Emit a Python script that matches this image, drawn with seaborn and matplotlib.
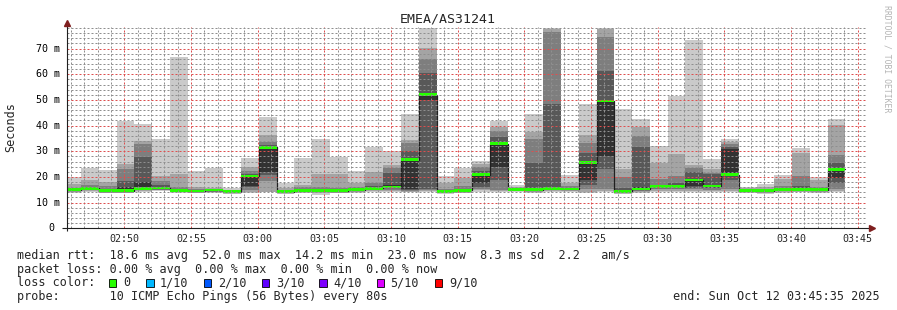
import matplotlib
matplotlib.use("Agg")
import numpy as np
import pandas as pd
import matplotlib.pyplot as plt
import matplotlib.dates as mdates
import matplotlib.transforms as mtrans
from matplotlib.ticker import MultipleLocator, NullFormatter
from matplotlib.patches import Rectangle
import seaborn as sns

# ---------------- data ----------------
title = "EMEA/AS31241"
sample_start = "2025-10-12 02:45:25"   # start of first 80 s probe round
step_seconds = 80
view_start = "2025-10-12 02:45:42"
view_end = "2025-10-12 03:45:42"

# sorted ping RTTs per round (ms): rtt1 = fastest ... rtt10 = slowest
rtt1 = [13.7, 14.3, 13.7, 13.6, 14.3, 14.6, 13.9, 13.7, 13.9, 13.5, 13.8, 14.0, 13.5, 13.8, 13.0,
        13.6, 13.9, 14.3, 14.3, 14.0, 14.2, 13.5, 13.6, 14.2, 14.2, 14.2, 13.9, 14.0, 14.2, 13.7,
        14.0, 13.4, 13.9, 14.2, 14.2, 14.2, 14.2, 14.0, 13.8, 13.5, 13.9, 14.0, 13.9, 14.0]
rtt2 = [14.1, 14.6, 13.9, 13.8, 14.6, 14.9, 14.1, 13.9, 14.1, 13.7, 14.3, 14.3, 13.7, 14.0, 13.6,
        13.9, 14.2, 14.6, 14.7, 14.3, 14.6, 13.8, 13.9, 14.8, 14.5, 14.4, 14.2, 14.4, 14.5, 14.3,
        14.6, 13.7, 14.3, 14.7, 14.7, 14.6, 14.6, 14.6, 14.0, 13.8, 14.3, 14.3, 14.2, 14.5]
rtt3 = [14.4, 14.9, 14.1, 14.0, 14.9, 15.1, 14.3, 14.1, 14.3, 13.9, 15.0, 18.4, 13.9, 14.3, 14.2,
        14.2, 14.5, 14.9, 15.1, 14.6, 15.0, 14.0, 14.2, 15.5, 15.0, 14.6, 14.5, 14.8, 14.8, 15.2,
        15.3, 14.0, 14.7, 15.2, 15.2, 15.2, 15.0, 15.5, 14.2, 14.1, 14.7, 14.6, 14.5, 15.5]
rtt4 = [14.6, 15.1, 14.3, 14.2, 15.2, 15.3, 14.5, 14.3, 14.5, 14.0, 16.0, 20.8, 14.1, 14.5, 14.5,
        14.5, 14.8, 15.2, 15.6, 14.9, 15.5, 14.2, 14.5, 16.2, 18.8, 14.8, 14.8, 15.2, 15.0, 16.9,
        23.1, 14.2, 15.0, 15.6, 15.6, 15.8, 15.6, 19.0, 14.4, 14.4, 15.0, 14.9, 14.8, 17.5]
rtt5 = [14.8, 15.4, 14.5, 14.7, 15.8, 15.6, 14.7, 14.5, 14.7, 14.2, 16.5, 22.0, 14.3, 14.7, 14.8,
        14.7, 15.0, 15.5, 16.1, 15.3, 50.0, 14.4, 14.8, 17.5, 24.0, 15.0, 15.0, 15.6, 15.3, 18.8,
        28.3, 14.4, 15.4, 16.0, 16.0, 16.6, 16.5, 21.0, 14.6, 14.6, 15.2, 15.2, 15.0, 19.6]
rtt6 = [15.0, 15.8, 14.8, 16.0, 18.0, 16.0, 15.0, 14.7, 14.9, 14.3, 20.8, 31.0, 14.5, 15.0, 15.0,
        15.0, 15.2, 15.8, 17.0, 27.0, 52.5, 14.7, 15.1, 21.0, 33.2, 15.2, 15.5, 16.0, 15.5, 25.8,
        49.6, 14.8, 16.0, 16.4, 16.6, 19.0, 17.0, 31.0, 14.8, 14.8, 15.4, 15.6, 15.2, 23.3]
rtt7 = [15.3, 16.2, 15.3, 18.3, 27.9, 16.8, 15.3, 15.0, 15.1, 14.4, 21.3, 32.3, 14.7, 15.3, 15.4,
        15.3, 15.5, 16.3, 21.5, 30.2, 60.5, 15.0, 15.5, 22.3, 35.5, 15.4, 25.3, 48.4, 15.8, 29.3,
        61.3, 15.8, 31.7, 17.0, 17.8, 22.1, 21.0, 31.8, 15.0, 15.0, 15.8, 16.5, 15.5, 25.3]
rtt8 = [15.8, 17.0, 16.4, 23.2, 32.8, 18.5, 16.0, 15.3, 15.3, 14.6, 22.5, 33.5, 15.0, 15.9, 16.0,
        15.8, 16.0, 17.6, 23.3, 33.3, 66.0, 15.5, 16.3, 23.8, 37.9, 15.7, 34.8, 76.6, 16.3, 33.2,
        74.6, 20.1, 36.0, 19.3, 20.4, 23.5, 21.4, 32.9, 15.2, 15.4, 16.5, 20.4, 16.0, 28.6]
rtt9 = [17.3, 19.0, 18.1, 25.1, 34.0, 20.4, 21.1, 15.9, 15.6, 15.0, 23.8, 36.4, 15.8, 16.9, 21.1,
        21.1, 17.8, 21.9, 24.7, 34.4, 70.1, 17.6, 19.7, 25.0, 39.6, 16.2, 37.4, 77.6, 17.5, 36.3,
        77.5, 23.1, 39.5, 25.3, 29.0, 24.5, 23.2, 33.8, 15.6, 16.0, 19.3, 29.2, 19.0, 40.3]
rtt10 = [19.8, 23.4, 22.6, 41.9, 40.6, 34.8, 66.7, 22.3, 23.4, 15.6, 27.4, 43.5, 17.6, 27.4, 34.8,
         27.8, 22.3, 31.6, 30.0, 44.4, 78.2, 20.4, 23.4, 26.3, 41.9, 16.9, 44.5, 78.2, 20.6, 48.4,
         78.1, 46.4, 42.6, 32.0, 51.6, 73.4, 27.0, 34.8, 16.0, 17.1, 20.8, 31.3, 19.8, 42.6]
median_rtt = [15.0, 15.6, 14.6, 14.6, 15.6, 15.7, 14.8, 14.5, 14.9, 14.2, 20.4, 31.6, 14.2, 14.6, 14.8,
              14.7, 15.1, 15.6, 16.1, 26.7, 52.1, 14.4, 14.8, 20.9, 32.9, 15.2, 15.0, 15.6, 15.3, 25.5,
              49.6, 14.3, 15.3, 16.2, 16.2, 18.8, 16.5, 20.8, 14.6, 14.6, 15.2, 15.2, 15.0, 23.0]

y_ticks = [0, 10, 20, 30, 40, 50, 60, 70]
y_tick_labels = ["0 ", "10 m", "20 m", "30 m", "40 m", "50 m", "60 m", "70 m"]

legend_line1 = "median rtt:  18.6 ms avg  52.0 ms max  14.2 ms min  23.0 ms now  8.3 ms sd  2.2   am/s"
legend_line2 = "packet loss: 0.00 % avg  0.00 % max  0.00 % min  0.00 % now"
loss_label = "loss color:"
loss_names = ["0", "1/10", "2/10", "3/10", "4/10", "5/10", "9/10"]
loss_colors = ["#26ff00", "#00b8ff", "#0059ff", "#5e00ff", "#7e00ff", "#dd00ff", "#ff0000"]
probe_line = "probe:       10 ICMP Echo Pings (56 Bytes) every 80s"
end_line = "end: Sun Oct 12 03:45:35 2025"
watermark = "RRDTOOL / TOBI OETIKER"

# ---------------- style ----------------
sns.set_style("white")
plt.rcParams['font.family'] = ['DejaVu Sans Mono', 'DejaVu Sans']

W, H = 897, 310
fig = plt.figure(figsize=(W / 100, H / 100), dpi=100)
fig.patch.set_facecolor("white")


def fx(px):
    return px / W


def fy(py):
    return 1 - py / H


AX_L, AX_R, AX_T, AX_B = 67, 867, 27.3, 228.3
ax = fig.add_axes([fx(AX_L), fy(AX_B), (AX_R - AX_L) / W, (AX_B - AX_T) / H])
ax.set_facecolor("white")

n = len(median_rtt)
times = pd.date_range(sample_start, periods=n, freq=f"{step_seconds}s")
x = mdates.date2num(times.to_pydatetime())
width = step_seconds / 86400.0
pings = np.array([rtt1, rtt2, rtt3, rtt4, rtt5, rtt6, rtt7, rtt8, rtt9, rtt10])
med = np.array(median_rtt)

shades = ["#cacaca", "#a4a4a4", "#7e7e7e", "#585858", "#323232"]
for i in range(5):
    lo = pings[i]
    hi = pings[9 - i]
    ax.bar(x, hi - lo, bottom=lo, width=width, align="edge", color=shades[i],
           linewidth=0, antialiased=False, zorder=1)

edges = np.append(x, x[-1] + width)
med_df = pd.DataFrame({"t": edges, "median": np.append(med, med[-1])})
sns.lineplot(data=med_df, x="t", y="median", drawstyle="steps-post", color="#202020",
             linewidth=0.9, ax=ax, zorder=1.5)

ax.bar(x, 1.1, bottom=med - 0.55, width=width, align="edge", color="#26ff00",
       linewidth=0, antialiased=False, zorder=1.8)

ax.set_xlim(mdates.date2num(pd.Timestamp(view_start).to_pydatetime()),
            mdates.date2num(pd.Timestamp(view_end).to_pydatetime()))
ax.set_ylim(0, 78.3)
ax.set_xlabel("")
ax.set_ylabel("")

ax.xaxis.set_major_locator(mdates.MinuteLocator(byminute=range(0, 60, 5)))
ax.xaxis.set_minor_locator(mdates.MinuteLocator())
ax.xaxis.set_major_formatter(mdates.DateFormatter("%H:%M"))
ax.yaxis.set_major_locator(MultipleLocator(10))
ax.yaxis.set_minor_locator(MultipleLocator(2))
ax.yaxis.set_major_formatter(NullFormatter())

ax.set_axisbelow(False)
dash = (0, (2, 2))
ax.grid(True, which="minor", color=(0.56, 0.56, 0.56, 0.28), linestyle=dash, linewidth=0.72)
ax.grid(True, which="major", color=(0.87, 0.31, 0.31, 0.38), linestyle=dash, linewidth=0.72)

for s in ax.spines.values():
    s.set_visible(False)

axis_color = "#1f1f1f"
arrow_color = "#7f1f1f"
ax.tick_params(axis="x", which="major", length=2.2, width=0.72, color=axis_color,
               labelsize=7.18, pad=2.0, direction="out")
ax.tick_params(axis="x", which="minor", length=1.4, width=0.72, color=axis_color, direction="out")
ax.tick_params(axis="y", which="major", length=2.2, width=0.72, color=axis_color, direction="out")
ax.tick_params(axis="y", which="minor", length=1.4, width=0.72, color=axis_color, direction="out")

# y tick labels (right edge at 7 px left of the axis, trailing blank kept)
blend = mtrans.blended_transform_factory(ax.transAxes, ax.transData)
for v, lab in zip(y_ticks, y_tick_labels):
    trailing = len(lab) - len(lab.rstrip())
    shift = -(7 + 6 * trailing) / 100.0
    tr = mtrans.offset_copy(blend, fig=fig, x=shift, y=0, units="inches")
    ax.text(0, v, lab.rstrip(), transform=tr, ha="right", va="center", fontsize=7.18,
            color="black")

# axis lines and arrows
pw, ph = AX_R - AX_L, AX_B - AX_T
ax.plot([-5 / pw, 1 + 2 / pw], [0, 0], transform=ax.transAxes, color=axis_color, lw=0.8,
        clip_on=False, zorder=5, solid_capstyle="butt")
ax.plot([0, 0], [-3 / ph, 1 + 2 / ph], transform=ax.transAxes, color=axis_color, lw=0.8,
        clip_on=False, zorder=5, solid_capstyle="butt")
ax.plot([1 + 4.5 / pw], [0], transform=ax.transAxes, marker=">", ms=4.2, color=arrow_color,
        mec=arrow_color, clip_on=False, zorder=6, linestyle="none")
ax.plot([0], [1 + 4 / ph], transform=ax.transAxes, marker="^", ms=4.2, color=arrow_color,
        mec=arrow_color, clip_on=False, zorder=6, linestyle="none")

# texts
fig.text(fx(448), fy(19), title, ha="center", va="center", fontsize=9.57)
fig.text(fx(11), fy(127), "Seconds", rotation=90, ha="center", va="center", fontsize=8.48)
fig.text(fx(887), fy(59), watermark, rotation=270, ha="center", va="center", fontsize=5.86,
         color="#b4b4b4")

LX = 16.7
fig.text(fx(LX), fy(258.8), legend_line1, ha="left", va="baseline", fontsize=8.48)
fig.text(fx(LX), fy(272.5), legend_line2, ha="left", va="baseline", fontsize=8.48)
fig.text(fx(LX), fy(286.2), loss_label, ha="left", va="baseline", fontsize=8.48)
box_x = [108.5, 146.0, 203.5, 261.5, 319.0, 376.5, 434.5]
lab_x = [123.3, 160.0, 218.3, 276.0, 333.3, 390.0, 449.5]
for bx, lx, name, col in zip(box_x, lab_x, loss_names, loss_colors):
    fig.add_artist(Rectangle((fx(bx), fy(286.5)), 7.5 / W, 7.5 / H, transform=fig.transFigure,
                             facecolor=col, edgecolor="black", linewidth=0.6))
    fig.text(fx(lx), fy(286.2), name, ha="left", va="baseline", fontsize=8.48)
fig.text(fx(LX), fy(299.9), probe_line, ha="left", va="baseline", fontsize=8.48)
fig.text(fx(880), fy(299.9), end_line, ha="right", va="baseline", fontsize=8.48)

fig.savefig("out.png", dpi=100, facecolor="white")
